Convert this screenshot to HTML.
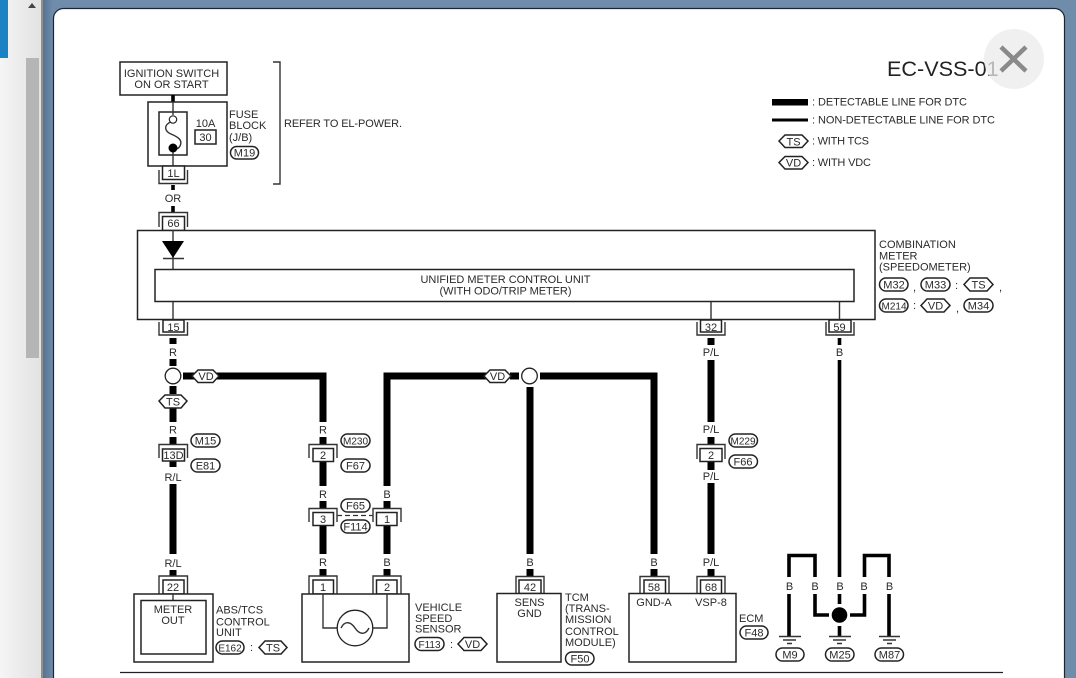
<!DOCTYPE html>
<html><head><meta charset="utf-8"><style>
html,body{margin:0;padding:0;width:1076px;height:678px;overflow:hidden;background:#6f8cab}
svg{display:block;filter:blur(.35px)}
text{font-family:"Liberation Sans",sans-serif;font-size:11px;fill:#2a2a2a;stroke:none}
.m{text-anchor:middle}
.w{stroke:#000;stroke-width:7;fill:none}
.s{stroke:#000;stroke-width:3.6;fill:none}
.t{stroke:#333;stroke-width:1.4;fill:none}
.b{stroke:#222;stroke-width:1.5;fill:#fff}
.o{stroke:#222;stroke-width:1.5;fill:#fff}
</style></head><body>
<svg width="1076" height="678" viewBox="0 0 1076 678" xmlns="http://www.w3.org/2000/svg">
<defs>
<linearGradient id="side" x1="0" x2="1" y1="0" y2="0"><stop offset="0" stop-color="#f5f5f5"/><stop offset="1" stop-color="#e2e2e2"/></linearGradient>
<linearGradient id="sh" x1="0" x2="1" y1="0" y2="0"><stop offset="0" stop-color="#54708f"/><stop offset="1" stop-color="#6f8cab"/></linearGradient>
</defs>
<rect width="1076" height="678" fill="#6f8cab"/>
<rect x="42" width="11" height="678" fill="url(#sh)"/>
<rect width="41" height="678" fill="url(#side)"/>
<rect x="41" width="2" height="678" fill="#8f8f8f"/>
<rect width="8" height="58" fill="#1b82c4"/>
<rect x="26" y="58" width="13" height="300" fill="#b5b5b5"/>
<polygon points="32,3 36,8 28,8" fill="#444"/>
<rect x="53.5" y="8.5" width="1011" height="690" rx="10" fill="#fff" stroke="#1c2630" stroke-width="1.2"/>

<!-- top -->
<rect class="b" x="120" y="62" width="107" height="33"/>
<text class="m" x="171.500" y="77">IGNITION SWITCH</text>
<text class="m" x="171.500" y="88">ON OR START</text>
<path class="s" d="M173 95V102"/>
<rect class="b" x="148" y="102" width="79" height="64"/>
<rect class="b" x="159" y="112" width="28" height="43"/>
<path class="t" d="M173 102V115M173 152V166"/>
<path class="t" d="M170.500 122C164 125 164 131 171 134C178 137 183 140 180 146C179 148 177 149 175 149"/>
<circle cx="173" cy="119.500" r="3.700" fill="#fff" stroke="#222" stroke-width="1.200"/>
<circle cx="173" cy="148" r="4.500" fill="#000"/>
<text class="m" x="205.500" y="127">10A</text>
<rect class="b" x="195" y="130" width="21" height="14"/>
<text class="m" x="205.500" y="141">30</text>
<text x="229" y="118">FUSE</text><text x="229" y="129">BLOCK</text><text x="229" y="141">(J/B)</text>
<rect class="o" x="230.500" y="146.500" width="28" height="12.500" rx="6.200"/><text class="m" x="244.500" y="156.500">M19</text>
<path class="t" d="M273 62H280V184H273"/>
<text x="284" y="127" textLength="118">REFER TO EL-POWER.</text>

<!-- 1L -->
<path class="t" d="M159 170V183.500H187.500V170"/>
<rect class="b" x="162.500" y="166" width="22" height="13.500"/>
<text class="m" x="173.500" y="177">1L</text>
<path class="s" d="M173 185V190"/>
<text class="m" x="173" y="202">OR</text>
<path class="s" d="M173 206V212"/>
<path class="t" d="M159 227V212.500H187.500V227"/>
<rect class="b" x="162.500" y="216.500" width="22" height="14"/>
<text class="m" x="173.500" y="227">66</text>

<!-- legend / title -->
<text x="887" y="76" style="font-size:21.6px;fill:#222">EC-VSS-01</text>
<circle cx="1014" cy="59" r="30" fill="rgba(235,235,235,.75)"/>
<path d="M1001 47L1026 71M1026 47L1001 71" stroke="#8a8a8a" stroke-width="4.500"/>
<rect x="772" y="99" width="36" height="6.500" fill="#000"/>
<rect x="772" y="118.500" width="36" height="3" fill="#000"/>
<text x="812" y="105.500" textLength="155">: DETECTABLE LINE FOR DTC</text>
<text x="812" y="123.500" textLength="183">: NON-DETECTABLE LINE FOR DTC</text>
<polygon class="o" points="779,141 785,135 802,135 808,141 802,147.500 785,147.500"/>
<text class="m" x="793.500" y="145.500">TS</text>
<text x="812" y="144.500" textLength="57">: WITH TCS</text>
<polygon class="o" points="779,162.500 785,156.500 802,156.500 808,162.500 802,169 785,169"/>
<text class="m" x="793.500" y="166.500">VD</text>
<text x="812" y="166" textLength="59">: WITH VDC</text>

<!-- combination meter -->
<rect class="b" x="137.500" y="230.500" width="737.500" height="89"/>
<path class="t" d="M173 230V269M173 301V320M711 301V320M839.500 301V320"/>
<polygon points="162,241 184,241 173,258" fill="#000"/>
<path class="t" d="M163 258.500H184"/>
<rect class="b" x="155" y="269.500" width="699" height="32"/>
<text class="m" x="505.500" y="283" textLength="170">UNIFIED METER CONTROL UNIT</text>
<text class="m" x="505.500" y="294.500" textLength="132">(WITH ODO/TRIP METER)</text>
<text x="879" y="248">COMBINATION</text>
<text x="879" y="259.500">METER</text>
<text x="879" y="270.500">(SPEEDOMETER)</text>
<rect class="o" x="879.500" y="278" width="28.500" height="13" rx="6.500"/><text class="m" x="894" y="288.500">M32</text>
<text x="913" y="291">,</text>
<rect class="o" x="921" y="278" width="29" height="13" rx="6.500"/><text class="m" x="935.500" y="288.500">M33</text>
<text x="955" y="289">:</text>
<polygon class="o" points="964,284.500 970,278 987,278 993,284.500 987,291 970,291"/><text class="m" x="978.500" y="288.500">TS</text>
<text x="999" y="291">,</text>
<rect class="o" x="879.500" y="299" width="28.500" height="13" rx="6.500"/><text class="m" x="894" y="309.500" style="font-size:10px">M214</text>
<text x="913" y="309">:</text>
<polygon class="o" points="921,305.500 927,299 944,299 950,305.500 944,312 927,312"/><text class="m" x="935.500" y="309.500">VD</text>
<text x="956" y="312">,</text>
<rect class="o" x="964" y="299" width="29" height="13" rx="6.500"/><text class="m" x="978.500" y="309.500">M34</text>

<!-- top connectors row -->
<path class="t" d="M159 322V335H187.500V322"/>
<rect class="b" x="163" y="320" width="21" height="12"/><text class="m" x="173.500" y="331">15</text>
<path class="t" d="M697 322V335H725V322"/>
<rect class="b" x="700.500" y="320" width="21" height="12"/><text class="m" x="711" y="331">32</text>
<path class="t" d="M826 322V335H854V322"/>
<rect class="b" x="829" y="320" width="22" height="12"/><text class="m" x="839.500" y="331">59</text>

<!-- left R wire -->
<path class="w" d="M173 338V344M173 359V366M173 386V394M173 408V422M173 437V444M173 460V467M173 484V554M173 570V576"/>
<text class="m" x="173" y="356">R</text>
<circle cx="173" cy="376" r="7.800" fill="#fff" stroke="#222" stroke-width="1.300"/>
<path class="w" d="M183 376H323V422"/>
<polygon class="o" points="192,376 198,370 213,370 219,376 213,382.500 198,382.500"/><text class="m" x="206" y="380">VD</text>
<polygon class="o" points="159,401 165,395 181,395 187,401 181,408 165,408"/><text class="m" x="173" y="405.500">TS</text>
<text class="m" x="173" y="433.500">R</text>
<path class="t" d="M159 458V444.500H187.500V458"/>
<rect class="b" x="162.500" y="449" width="22" height="12"/><text class="m" x="173.500" y="459">13D</text>
<text class="m" x="173" y="481">R/L</text>
<text class="m" x="173" y="567">R/L</text>
<rect class="o" x="191" y="434" width="29" height="13" rx="6.500"/><text class="m" x="205.500" y="444.500">M15</text>
<rect class="o" x="191" y="459" width="29" height="13" rx="6.500"/><text class="m" x="205.500" y="469.500">E81</text>
<path class="t" d="M159 594V576H187.500V594"/>
<rect class="b" x="163" y="580" width="21" height="14"/><text class="m" x="173" y="591">22</text>
<rect class="b" x="134" y="594" width="79" height="68"/>
<path class="t" d="M173 594V600"/>
<rect class="b" x="141" y="600.500" width="65" height="53.500"/>
<text class="m" x="173" y="613">METER</text><text class="m" x="173" y="624">OUT</text>
<text x="216" y="613.500">ABS/TCS</text><text x="216" y="625.500">CONTROL</text><text x="216" y="636">UNIT</text>
<rect class="o" x="216" y="641" width="28" height="13" rx="6.500"/><text class="m" x="230" y="651.500" style="font-size:10px">E162</text>
<text x="250" y="651">:</text>
<polygon class="o" points="259,647.500 265,641 281,641 287,647.500 281,654 265,654"/><text class="m" x="273" y="651.500">TS</text>

<!-- R column 323 -->
<path class="w" d="M323 437V444M323 462V486M323 501V508M323 525V554M323 569V576"/>
<text class="m" x="323" y="433.500">R</text>
<path class="t" d="M309 458V444.500H337V458"/>
<rect class="b" x="313" y="448.500" width="20.500" height="13"/><text class="m" x="323" y="459">2</text>
<rect class="o" x="341" y="434" width="29" height="13" rx="6.500"/><text class="m" x="355.500" y="444.500" style="font-size:10px">M230</text>
<rect class="o" x="341" y="459" width="29" height="13" rx="6.500"/><text class="m" x="355.500" y="469.500">F67</text>
<text class="m" x="323" y="498">R</text>
<path class="t" d="M309 522V508.500H337V522"/>
<rect class="b" x="313" y="512.500" width="20.500" height="13"/><text class="m" x="323" y="523">3</text>
<text class="m" x="323" y="566">R</text>
<path class="t" d="M309 594V576H337V594"/>
<rect class="b" x="313" y="580" width="20.500" height="14"/><text class="m" x="323" y="591">1</text>
<path d="M337 515.500H373" stroke="#333" stroke-width="1.200" stroke-dasharray="5 3"/>
<rect class="o" x="341" y="499" width="29" height="13" rx="6.500"/><text class="m" x="355.500" y="509.500">F65</text>
<rect class="o" x="341" y="520" width="29" height="13" rx="6.500"/><text class="m" x="355.500" y="530.500">F114</text>

<!-- B column 387 -->
<path class="w" d="M387 486V376H487M510 376H519M540 376H654V554M530 387V554M387 501V508M387 525V554M387 569V576"/>
<polygon class="o" points="484,376 490,370 505,370 511,376 505,382.500 490,382.500"/><text class="m" x="497.500" y="380">VD</text>
<circle cx="529.500" cy="376" r="7.800" fill="#fff" stroke="#222" stroke-width="1.300"/>
<text class="m" x="387" y="498">B</text>
<path class="t" d="M373 522V508.500H401V522"/>
<rect class="b" x="376.500" y="512.500" width="20.500" height="13"/><text class="m" x="387" y="523">1</text>
<text class="m" x="387" y="566">B</text>
<path class="t" d="M373 594V576H401V594"/>
<rect class="b" x="376.500" y="580" width="20.500" height="14"/><text class="m" x="387" y="591">2</text>

<!-- sensor -->
<rect class="b" x="302" y="594" width="107" height="68"/>
<path class="t" d="M323 594V628H337M387 594V628H373"/>
<circle cx="355" cy="628" r="17.800" fill="#fff" stroke="#222" stroke-width="1.300"/>
<path class="t" d="M341 628C345 620 351 622 355 628C359 634 365 636 369 628"/>
<text x="415" y="611">VEHICLE</text><text x="415" y="622">SPEED</text><text x="415" y="632.500">SENSOR</text>
<rect class="o" x="415" y="637.500" width="29" height="13" rx="6.500"/><text class="m" x="429.500" y="648" style="font-size:10px">F113</text>
<text x="450" y="648">:</text>
<polygon class="o" points="458,644 464,637.500 481,637.500 487,644 481,650.500 464,650.500"/><text class="m" x="472.500" y="648">VD</text>

<!-- TCM -->
<text class="m" x="530" y="566">B</text>
<path class="s" d="M530 569V576" style="stroke-width:7"/>
<path class="t" d="M516 593V576.500H544V593"/>
<rect class="b" x="519" y="580" width="22" height="13.500"/><text class="m" x="530" y="591">42</text>
<rect class="b" x="497" y="593.500" width="64" height="68.500"/>
<text class="m" x="529.500" y="606">SENS</text><text class="m" x="529.500" y="617">GND</text>
<text x="565" y="601">TCM</text><text x="565" y="612">(TRANS-</text><text x="565" y="623">MISSION</text><text x="565" y="635">CONTROL</text><text x="565" y="646">MODULE)</text>
<rect class="o" x="565.500" y="652" width="28.500" height="13" rx="6.500"/><text class="m" x="580" y="662.500">F50</text>

<!-- ECM -->
<text class="m" x="654" y="566">B</text>
<path class="s" d="M654 569V576" style="stroke-width:7"/>
<path class="t" d="M640 593V576.500H669V593"/>
<rect class="b" x="644" y="580" width="21.500" height="13.500"/><text class="m" x="654" y="591">58</text>
<rect class="b" x="629" y="593.500" width="107" height="68.500"/>
<text class="m" x="654" y="606">GND-A</text><text class="m" x="711" y="606">VSP-8</text>
<text x="739" y="622">ECM</text>
<rect class="o" x="740" y="626" width="28" height="13" rx="6.500"/><text class="m" x="754" y="636.500">F48</text>

<!-- P/L -->
<path class="w" d="M711 338V345M711 360V422M711 437V444M711 462V470M711 483V554M711 569V576"/>
<text class="m" x="711" y="356">P/L</text>
<text class="m" x="711" y="433">P/L</text>
<path class="t" d="M697 459V444.500H725V459"/>
<rect class="b" x="700" y="448.500" width="22" height="13"/><text class="m" x="711" y="459">2</text>
<rect class="o" x="729" y="434" width="28.500" height="13" rx="6.500"/><text class="m" x="743" y="444.500" style="font-size:10px">M229</text>
<rect class="o" x="729" y="455" width="28.500" height="13" rx="6.500"/><text class="m" x="743" y="465.500">F66</text>
<text class="m" x="711" y="480">P/L</text>
<text class="m" x="711" y="566">P/L</text>
<path class="t" d="M697 593V576.500H725V593"/>
<rect class="b" x="700.500" y="580" width="21" height="13.500"/><text class="m" x="711" y="591">68</text>

<!-- B thin + grounds -->
<path class="s" d="M839.500 338V345M839.500 360V577M839.500 594V604M839.500 626V636"/>
<text class="m" x="839.500" y="356">B</text>
<path class="s" d="M789 577V555.500H815V577M789 594V636M815 594V615H829M850 615H864.500V594M864.500 577V555.500H889V577M889 594V636"/>
<text class="m" x="789.500" y="590">B</text><text class="m" x="815" y="590">B</text><text class="m" x="840" y="590">B</text><text class="m" x="864" y="590">B</text><text class="m" x="889.500" y="590">B</text>
<circle cx="839.500" cy="615" r="7.800" fill="#000"/>
<path class="t" d="M779 636.500H801M783 640H796M787 643.500H792M829 636.500H851M833 640H846M837 643.500H842M879 636.500H900M883 640H896M887 643.500H892"/>
<rect class="o" x="776" y="648" width="28" height="13" rx="6.500"/><text class="m" x="790" y="658.500">M9</text>
<rect class="o" x="825.500" y="648" width="28.500" height="13" rx="6.500"/><text class="m" x="840" y="658.500">M25</text>
<rect class="o" x="875" y="648" width="28.500" height="13" rx="6.500"/><text class="m" x="889.500" y="658.500">M87</text>

<path d="M120 672.500H1003" stroke="#222" stroke-width="1.300"/>
</svg>
</body></html>
